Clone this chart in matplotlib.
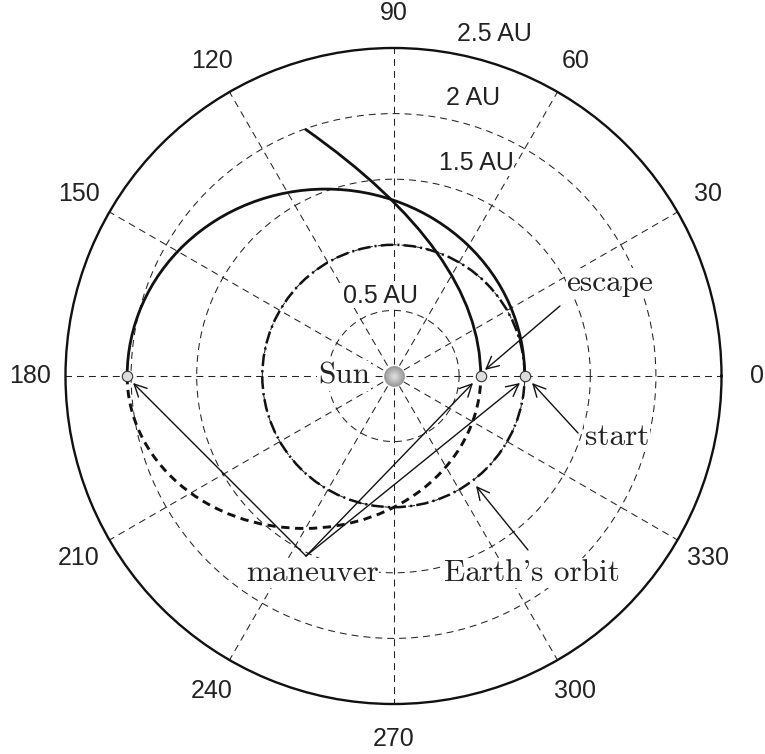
import numpy as np
import matplotlib
matplotlib.use("Agg")
import matplotlib.pyplot as plt
from matplotlib.patches import Arc, Circle, PathPatch
from matplotlib.path import Path

plt.rcParams['lines.scale_dashes'] = False

# --- data (AU, degrees) ---
ring_values = [0.5, 1.0, 1.5, 2.0]
ring_labels = ["0.5 AU", "1.5 AU", "2 AU", "2.5 AU"]
ring_label_xy = [(-0.10, 0.61), (0.63, 1.62), (0.61, 2.12), (0.77, 2.61)]
r_max = 2.5
theta_ticks = [0, 30, 60, 90, 120, 150, 180, 210, 240, 270, 300, 330]
theta_labels = [str(t) for t in theta_ticks]

earth_r = 1.0
transfer_peri, transfer_apo = 1.0, 2.03      # solid, upper half
return_peri, return_apo = 0.665, 2.03        # dashed, lower half
escape_peri = 0.665                          # parabolic escape
escape_end_r, escape_end_theta = 2.0, 109.7

point_r = [2.03, 0.665, 1.0]
point_theta = [180, 0, 0]

# annotation text / arrow positions (AU, cartesian)
maneuver_from = (-0.667, -1.372)
maneuver_to = [(-1.985, -0.053), (0.606, -0.053), (0.964, -0.053)]
escape_arrow = ((1.269, 0.534), (0.697, 0.046))
start_arrow = ((1.406, -0.434), (1.056, -0.053))
earth_arrow = ((1.025, -1.326), (0.629, -0.838))

fig = plt.figure(figsize=(7.65, 7.54), dpi=100)
rect = [0.08562, 0.06631, 0.85752, 0.87003]

# polar grid
ax = fig.add_axes(rect, projection='polar')
ax.set_rlim(0, r_max)
ax.set_rgrids(ring_values, labels=[''] * len(ring_values))
ax.set_thetagrids(theta_ticks, labels=theta_labels,
                  fontsize=18, family='Liberation Sans', color='#222222')
ax.tick_params(axis='x', pad=15)
ax.grid(True, color='#222222', linestyle=(0, (5, 3.6)), linewidth=0.75)
ax.spines['polar'].set_linewidth(1.7)
ax.spines['polar'].set_color('#111111')

# cartesian overlay for orbits
ax2 = fig.add_axes(rect)
ax2.set_xlim(-r_max, r_max)
ax2.set_ylim(-r_max, r_max)
ax2.set_aspect('equal')
ax2.axis('off')

ax2.add_patch(Circle((0, 0), earth_r, fill=False, color='#111111', lw=1.8,
                     linestyle=(0, (9, 3, 1.5, 3))))

a_t = (transfer_peri + transfer_apo) / 2
b_t = np.sqrt(transfer_peri * transfer_apo)
ax2.add_patch(Arc(((transfer_peri - transfer_apo) / 2, 0), 2 * a_t, 2 * b_t,
                  theta1=0, theta2=180, color='#111111', lw=2.0))

a_r = (return_peri + return_apo) / 2
b_r = np.sqrt(return_peri * return_apo)
ax2.add_patch(Arc(((return_peri - return_apo) / 2, 0), 2 * a_r, 2 * b_r,
                  theta1=180, theta2=360, color='#111111', lw=2.1,
                  linestyle=(0, (6, 4))))

# escape parabola as a quadratic bezier
ex = escape_end_r * np.cos(np.radians(escape_end_theta))
ey = escape_end_r * np.sin(np.radians(escape_end_theta))
esc = Path([(escape_peri, 0), (escape_peri, ey / 2), (ex, ey)],
           [Path.MOVETO, Path.CURVE3, Path.CURVE3])
ax2.add_patch(PathPatch(esc, fill=False, color='#111111', lw=2.0))

# Sun
for s, c in zip([15, 12.5, 10, 7.5, 5, 2.5],
                ['#9a9a9a', '#a8a8a8', '#b5b5b5', '#c2c2c2', '#cfcfcf', '#dadada']):
    ax2.plot([0], [0], 'o', ms=s, color=c, mec='none', zorder=5)

px = [r * np.cos(np.radians(t)) for r, t in zip(point_r, point_theta)]
py = [r * np.sin(np.radians(t)) for r, t in zip(point_r, point_theta)]
ax2.plot(px, py, 'o', ms=7.5, mfc='#dddddd', mec='#333333', mew=0.8, zorder=6)

arrow = dict(arrowstyle='->', lw=1.0, color='#111111',
             mutation_scale=22, shrinkA=0, shrinkB=0)
for tgt in maneuver_to:
    ax2.annotate('', xy=tgt, xytext=maneuver_from, arrowprops=arrow)
for tail, head in [escape_arrow, start_arrow, earth_arrow]:
    ax2.annotate('', xy=head, xytext=tail, arrowprops=arrow)

serif = dict(family=['cmr10', 'DejaVu Serif'], fontsize=22.5, color='#222222',
             ha='center', va='center',
             bbox=dict(fc='white', ec='none', pad=0.5))
ax2.text(-0.377, 0.0, "Sun", **serif)
ax2.text(1.65, 0.709, "escape", **serif)
ax2.text(1.703, -0.465, "start", **serif)
ax2.text(1.056, -1.502, "Earth's orbit", **serif)
ax2.text(-0.621, -1.502, "maneuver", **serif)

for lab, (x, y) in zip(ring_labels, ring_label_xy):
    ax2.text(x, y, lab, family='Liberation Sans', fontsize=18, color='#222222',
             ha='center', va='center',
             bbox=dict(fc='white', ec='none', pad=0.3))

fig.savefig("out.png", dpi=100)
